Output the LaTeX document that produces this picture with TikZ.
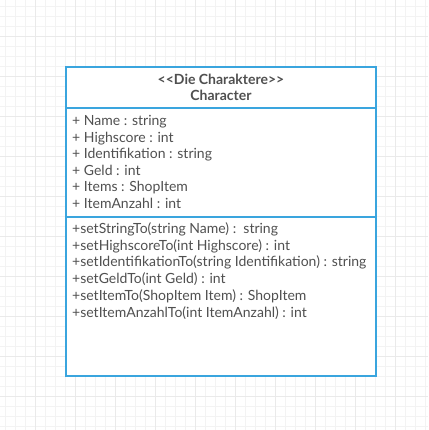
\documentclass[tikz,border=0pt]{standalone}
\usepackage{fontspec}
\setmainfont{Lato}
\definecolor{umlblue}{HTML}{3AA5DE}
\definecolor{txt}{HTML}{505050}
\definecolor{gridminor}{HTML}{F3F3F3}
\definecolor{gridmajor}{HTML}{EAEAEA}
\begin{document}
\begin{tikzpicture}[x=1pt,y=-1pt,
  compartment/.style={draw=umlblue,line width=2pt,fill=white},
  line/.style={font=\fontsize{14}{16}\selectfont,text=txt,anchor=base west,inner sep=0pt},
  head/.style={font=\fontsize{14}{16}\selectfont\bfseries,text=txt,anchor=base,inner sep=0pt}]
\useasboundingbox (0,0) rectangle (428,430);
\fill[white] (0,0) rectangle (428,430);
% grid
\foreach \x in {5,15,...,425} \draw[gridminor,line width=0.7pt] (\x,0) -- (\x,430);
\foreach \y in {6,16,...,426} \draw[gridminor,line width=0.7pt] (0,\y) -- (428,\y);
\foreach \x in {35,75,...,425} \draw[gridmajor,line width=0.7pt] (\x,0) -- (\x,430);
\foreach \y in {36,76,...,426} \draw[gridmajor,line width=0.7pt] (0,\y) -- (428,\y);
% class box
\draw[compartment] (66,67) rectangle (376,376);
\coordinate (hl) at (66,108); \coordinate (hr) at (376,108);
\coordinate (al) at (66,217); \coordinate (ar) at (376,217);
\draw[umlblue,line width=2pt] (hl) -- (hr);
\draw[umlblue,line width=2pt] (al) -- (ar);
\node[head] (st) at (221,85) {<\kern0pt<Die Charaktere>\kern0pt>};
\node[head] (nm) at (221,101) {Character};
\node[line] (a1) at (72,126) {+ Name : string};
\node[line] (a2) at (72,142.5) {+ Highscore : int};
\node[line] (a3) at (72,159) {+ Identifikation : string};
\node[line] (a4) at (72,175.5) {+ Geld : int};
\node[line] (a5) at (72,192) {+ Items : ShopItem};
\node[line] (a6) at (72,208.5) {+ ItemAnzahl : int};
\node[line] (m1) at (72,233.5) {+setStringTo(string Name) :\ \ string};
\node[line] (m2) at (72,250.2) {+setHighscoreTo(int Highscore) : int};
\node[line] (m3) at (72,266.9) {+setIdentifikationTo(string Identifikation) : string};
\node[line] (m4) at (72,283.6) {+setGeldTo(int Geld) : int};
\node[line] (m5) at (72,300.3) {+setItemTo(ShopItem Item) : ShopItem};
\node[line] (m6) at (72,317) {+setItemAnzahlTo(int ItemAnzahl) : int};
\end{tikzpicture}
\end{document}
